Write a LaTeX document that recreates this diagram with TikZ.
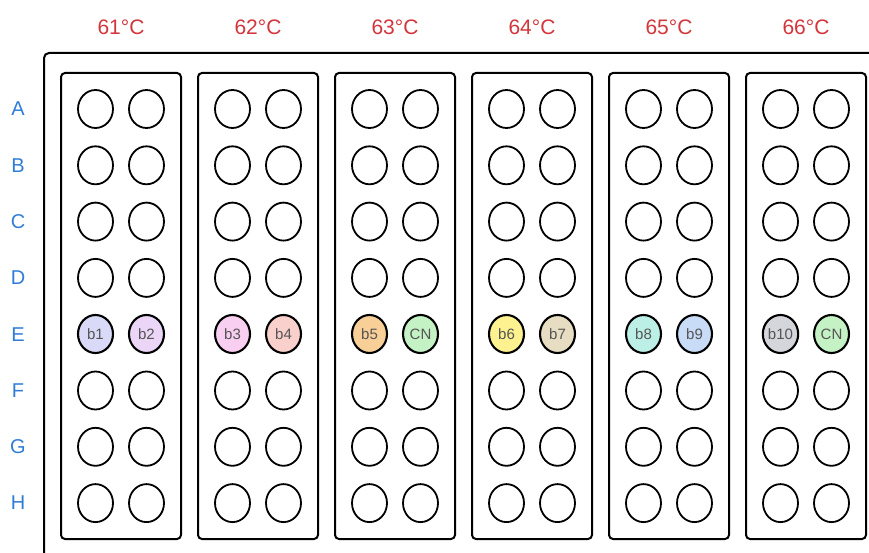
\documentclass[tikz,border=0pt]{standalone}
\usepackage{fontspec}
\setmainfont{Liberation Sans}
\usetikzlibrary{shapes.geometric}
\definecolor{tempred}{HTML}{D2363C}
\definecolor{rowblue}{HTML}{2F7DD6}
\definecolor{wlabel}{HTML}{555555}
\definecolor{cB1}{HTML}{D8DAF8}
\definecolor{cB2}{HTML}{ECD6F8}
\definecolor{cB3}{HTML}{F8CFF0}
\definecolor{cB4}{HTML}{F9D0CC}
\definecolor{cB5}{HTML}{F9CF98}
\definecolor{cCN}{HTML}{C4F2C4}
\definecolor{cB6}{HTML}{FDF190}
\definecolor{cB7}{HTML}{E6DDC2}
\definecolor{cB8}{HTML}{BCF0E6}
\definecolor{cB9}{HTML}{C8DCF8}
\definecolor{cB10}{HTML}{D4D6DC}
\tikzset{
  wellshape/.style={ellipse, draw=black, line width=1.8pt, minimum width=35pt, minimum height=38pt, inner sep=0pt},
  samplewell/.style={wellshape, line width=2.1pt, text=wlabel, font=\fontsize{15}{18}\selectfont},
  stripbox/.style={draw=black, line width=2pt, rounded corners=4pt},
  rowlabel/.style={text=rowblue, font=\fontsize{20}{24}\selectfont},
  templabel/.style={text=tempred, font=\fontsize{21}{25}\selectfont}
}
\begin{document}
\begin{tikzpicture}[x=1pt,y=-1pt]
\useasboundingbox (0,0) rectangle (869,553);
\clip (0,0) rectangle (869,553);
\draw[line width=2pt, rounded corners=5pt] (44,53) rectangle (900,600);
% temperature labels and strips
\foreach \i/\t in {0/61,1/62,2/63,3/64,4/65,5/66}{
  \node[templabel] (temp\i) at (121+137*\i,27) {\t°C};
  \draw[stripbox] (61+137*\i,73) rectangle (181+137*\i,539);
}
% row labels
\foreach \j/\r in {0/A,1/B,2/C,3/D,4/E,5/F,6/G,7/H}{
  \node[rowlabel] (row\r) at (18,109+56.3*\j) {\r};
}
% empty wells
\foreach \i in {0,...,5}{
  \foreach \j/\r in {0/A,1/B,2/C,3/D,5/F,6/G,7/H}{
    \node[wellshape] (w\i\r1) at (95.5+137*\i,109+56.3*\j) {};
    \node[wellshape] (w\i\r2) at (146.5+137*\i,109+56.3*\j) {};
  }
}
% sample wells (row E)
\foreach \i/\la/\ca/\lb/\cb in {0/b1/cB1/b2/cB2,1/b3/cB3/b4/cB4,2/b5/cB5/CN/cCN,3/b6/cB6/b7/cB7,4/b8/cB8/b9/cB9,5/b10/cB10/CN/cCN}{
  \node[samplewell, fill=\ca] (w\i E1) at (95.5+137*\i,334) {\la};
  \node[samplewell, fill=\cb] (w\i E2) at (146.5+137*\i,334) {\lb};
}
\end{tikzpicture}
\end{document}
